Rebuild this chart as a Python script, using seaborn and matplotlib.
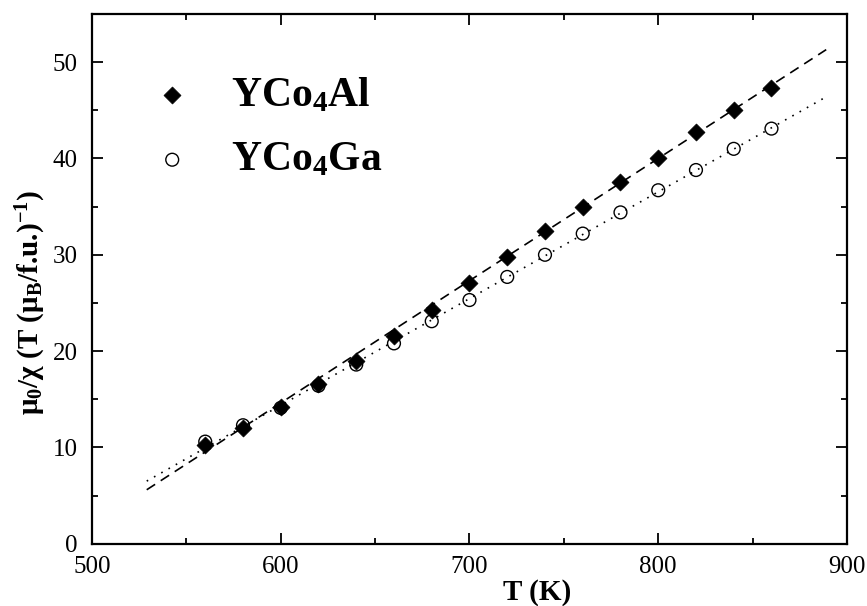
import numpy as np
import pandas as pd
import matplotlib
matplotlib.use('Agg')
import matplotlib.pyplot as plt
import seaborn as sns
from matplotlib.ticker import MultipleLocator

# data
temp = [560, 580, 600, 620, 640, 660, 680, 700, 720, 740, 760, 780, 800, 820, 840, 860]
inv_chi_al = [10.3, 12.0, 14.2, 16.6, 19.0, 21.6, 24.3, 27.1, 29.8, 32.5, 35.0, 37.6, 40.1, 42.7, 45.0, 47.3]
inv_chi_ga = [10.6, 12.3, 14.1, 16.4, 18.6, 20.8, 23.1, 25.3, 27.7, 30.0, 32.2, 34.4, 36.7, 38.8, 41.0, 43.1]

# Curie-Weiss fit lines (end points)
fit_temp = [529, 889]
fit_al = [5.6, 51.3]
fit_ga = [6.5, 46.4]

sns.set_style('ticks', {'axes.edgecolor': 'black', 'text.color': 'black',
                        'xtick.color': 'black', 'ytick.color': 'black',
                        'axes.labelcolor': 'black'})
plt.rcParams['font.family'] = ['Liberation Serif', 'DejaVu Serif']
plt.rcParams['mathtext.fontset'] = 'custom'
plt.rcParams['mathtext.rm'] = 'Liberation Serif'
plt.rcParams['mathtext.bf'] = 'Liberation Serif:bold'
plt.rcParams['mathtext.default'] = 'bf'  # all math here is bold

df = pd.DataFrame({'T': temp, 'Al': inv_chi_al, 'Ga': inv_chi_ga})
df_fit = pd.DataFrame({'T': fit_temp, 'Al': fit_al, 'Ga': fit_ga})

fig = plt.figure(figsize=(8.67, 6.06), dpi=100)
ax = fig.add_axes([0.1061, 0.1028, 0.8708, 0.8741])

sns.lineplot(data=df_fit, x='T', y='Al', ax=ax, color='black', lw=1.2,
             linestyle=(0, (6, 4)), zorder=1)
sns.lineplot(data=df_fit, x='T', y='Ga', ax=ax, color='black', lw=1.2,
             linestyle=(0, (1, 4)), zorder=1)

sns.scatterplot(data=df, x='T', y='Al', ax=ax, marker='D', s=75, color='black',
                edgecolor='black', linewidth=0.5, label='YCo$_4$Al', zorder=3)
sns.scatterplot(data=df, x='T', y='Ga', ax=ax, marker='o', s=85, facecolors='none',
                edgecolor='black', linewidth=1.0, label='YCo$_4$Ga', zorder=3)

ax.set_xlim(500, 900)
ax.set_ylim(0, 55)
ax.xaxis.set_major_locator(MultipleLocator(100))
ax.xaxis.set_minor_locator(MultipleLocator(50))
ax.yaxis.set_major_locator(MultipleLocator(10))
ax.yaxis.set_minor_locator(MultipleLocator(5))
ax.tick_params(which='both', direction='in', top=True, right=True, width=1.3, labelsize=18)
ax.tick_params(which='major', length=8)
ax.tick_params(which='minor', length=4.5)
ax.tick_params(axis='x', pad=8.5)
ax.tick_params(axis='y', pad=10.5)
for sp in ax.spines.values():
    sp.set_linewidth(1.6)
    sp.set_visible(True)

ax.set_xlabel('T (K)', fontsize=21, fontweight='bold')
ax.set_ylabel('μ$_0$/χ (T (μ$_B$/f.u.)$^{-1}$)', fontsize=21, fontweight='bold')
ax.xaxis.set_label_coords(0.59, -0.066)
ax.yaxis.set_label_coords(-0.058, 0.456)

leg = ax.legend(loc='center left', bbox_to_anchor=(0.029, 0.785), frameon=False,
                prop={'size': 30, 'weight': 'bold'}, handletextpad=0.4,
                labelspacing=0.64, borderaxespad=0.0)

fig.savefig('out.png', dpi=100)
